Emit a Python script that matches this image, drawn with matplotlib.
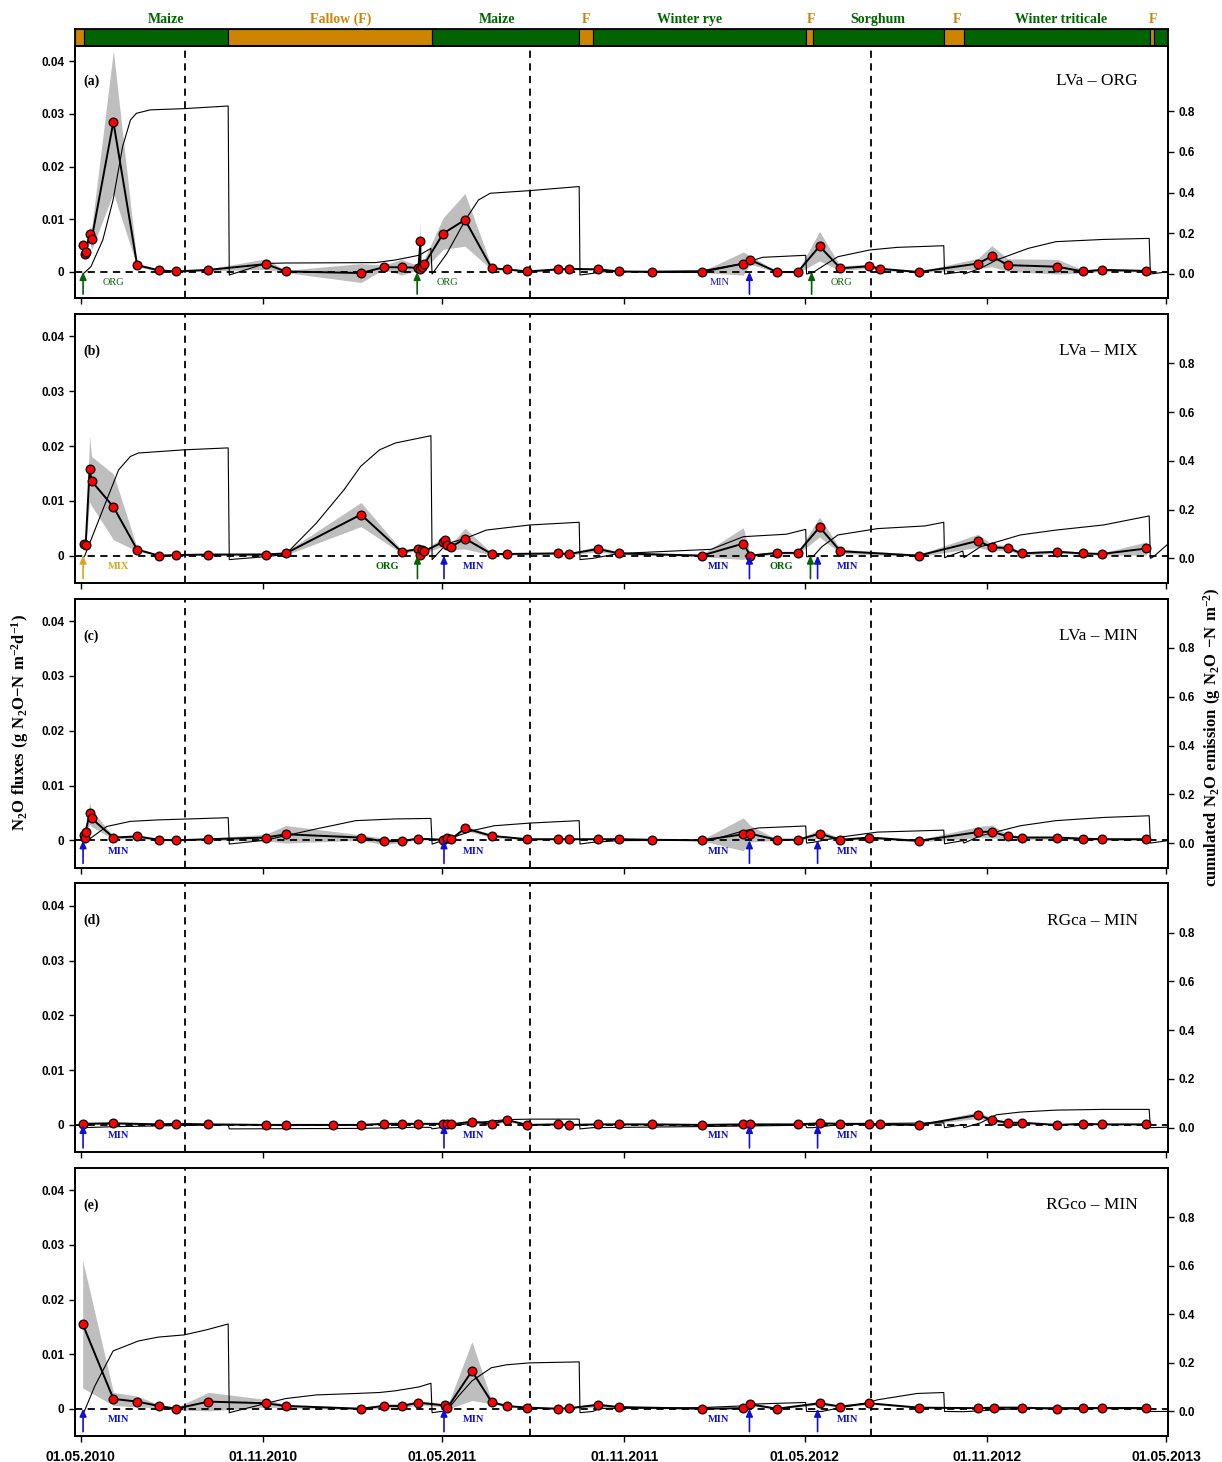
import numpy as np
import matplotlib
matplotlib.use("Agg")
import matplotlib.pyplot as plt

plt.rcParams["mathtext.fontset"] = "custom"
plt.rcParams["mathtext.rm"] = "Liberation Serif"
plt.rcParams["mathtext.bf"] = "Liberation Serif:bold"

SANS = ["Liberation Sans", "DejaVu Sans"]
SERIF = ["Liberation Serif", "DejaVu Serif"]

GREEN = "#006400"
ORANGE = "#CD8500"
GOLD = "#DAA520"
BLUE = "#1010D0"
BAND = "#BEBEBE"

# x values are days since 01.05.2010
# ---------------- crop periods ----------------
crop_start = [-5.75, 3.5, 149.2, 354.8, 503.3, 516.9, 732.0, 739.3, 871.4, 891.8, 1080.0, 1083.2]
crop_end = [3.5, 149.2, 354.8, 503.3, 516.9, 732.0, 739.3, 871.4, 891.8, 1080.0, 1083.2, 1097.8]
crop_fallow = [True, False, True, False, True, False, True, False, True, False, True, False]
crop_names = ["", "Maize", "Fallow (F)", "Maize", "F", "Winter rye", "F", "Sorghum", "F",
              "Winter triticale", "F", ""]
crop_label_day = [0, 86, 263, 420, 510, 615, 737, 805, 885, 990, 1083, 0]

season_lines = [105, 454, 798]

tick_dates = ["2010-05-01", "2010-11-01", "2011-05-01", "2011-11-01",
              "2012-05-01", "2012-11-01", "2013-05-01"]

# ---------------- (a) LVa - ORG ----------------
days_a = [2, 4, 5, 9, 11, 33, 57, 79, 96, 129, 187, 207, 283, 306, 324, 341, 343, 343, 345, 347,
          366, 388, 415, 430, 451, 482, 493, 522, 544, 577, 627, 669, 676, 703, 724, 746, 767,
          796, 807, 846, 906, 920, 936, 986, 1012, 1031, 1076]
flux_a = [0.0052, 0.0035, 0.0037, 0.0072, 0.0062, 0.0285, 0.0013, 0.0003, 0.0001, 0.0004,
          0.0015, 0.0001, -0.0002, 0.0009, 0.0009, 0.0008, 0.0059, 0.0005, 0.0010, 0.0015,
          0.0073, 0.0099, 0.0007, 0.0005, 0.0001, 0.0005, 0.0006, 0.0005, 0.0001, 0.0000,
          0.0000, 0.0016, 0.0023, 0.0000, 0.0000, 0.0049, 0.0007, 0.0011, 0.0006, 0.0000,
          0.0016, 0.0030, 0.0013, 0.0010, 0.0001, 0.0004, 0.0002]
se_a = [0.0012, 0.0010, 0.0010, 0.0014, 0.0020, 0.0135, 0.0003, 0.0002, 0.0001, 0.0002,
        0.0010, 0.0002, 0.0018, 0.0004, 0.0015, 0.0004, 0.0040, 0.0004, 0.0004, 0.0010,
        0.0030, 0.0050, 0.0003, 0.0002, 0.0001, 0.0002, 0.0002, 0.0002, 0.0001, 0.0001,
        0.0001, 0.0022, 0.0008, 0.0001, 0.0002, 0.0028, 0.0004, 0.0004, 0.0003, 0.0001,
        0.0010, 0.0020, 0.0012, 0.0014, 0.0003, 0.0003, 0.0002]
cum_days_a = [2.4, 10.3, 22.3, 32.7, 42.3, 50.2, 56.2, 70.2, 104.2, 148.9, 150.0, 186.8, 206.8,
              297.7, 317.7, 341.6, 353.6, 354.8, 369.6, 388.4, 401.6, 413.5, 453.5, 503.3,
              504.1, 516.9, 524.2, 627.1, 669.2, 688.4, 732.0, 732.9, 739.3, 748.4, 764.5,
              796.5, 824.5, 871.4, 872.2, 890.6, 891.8, 908.6, 924.7, 956.7, 984.7, 1032.8,
              1078.8, 1080.0, 1097.8]
cum_a = [0.0, 0.036, 0.167, 0.364, 0.626, 0.757, 0.790, 0.807, 0.813, 0.826, -0.005, 0.052,
         0.054, 0.056, 0.069, 0.092, 0.126, 0.0, 0.100, 0.266, 0.364, 0.397, 0.410, 0.430,
         -0.005, 0.003, 0.011, 0.016, 0.052, 0.082, 0.092, 0.0, 0.007, 0.036, 0.085, 0.118,
         0.131, 0.139, 0.0, 0.011, 0.0, 0.028, 0.069, 0.126, 0.159, 0.170, 0.175, 0.0, 0.011]

# ---------------- (b) LVa - MIX ----------------
days_b = [3, 5, 9, 11, 33, 57, 79, 96, 129, 187, 207, 283, 324, 341, 343, 345, 347, 366, 368,
          370, 374, 388, 415, 430, 482, 493, 522, 544, 627, 669, 676, 703, 724, 746, 767, 846,
          906, 920, 936, 950, 986, 1012, 1031, 1076]
flux_b = [0.0022, 0.0019, 0.0158, 0.0136, 0.0089, 0.0011, 0.0000, 0.0001, 0.0002, 0.0002,
          0.0004, 0.0075, 0.0007, 0.0012, 0.0001, 0.0011, 0.0008, 0.0025, 0.0028, 0.0019,
          0.0016, 0.0031, 0.0003, 0.0003, 0.0004, 0.0003, 0.0012, 0.0004, 0.0000, 0.0022,
          0.0000, 0.0005, 0.0005, 0.0052, 0.0008, 0.0000, 0.0027, 0.0015, 0.0014, 0.0004,
          0.0007, 0.0004, 0.0003, 0.0013]
se_b = [0.0003, 0.0003, 0.0060, 0.0045, 0.0060, 0.0003, 0.0001, 0.0001, 0.0001, 0.0003,
        0.0003, 0.0022, 0.0003, 0.0003, 0.0002, 0.0003, 0.0003, 0.0008, 0.0008, 0.0005,
        0.0005, 0.0019, 0.0002, 0.0002, 0.0002, 0.0002, 0.0005, 0.0002, 0.0002, 0.0029,
        0.0003, 0.0002, 0.0002, 0.0018, 0.0004, 0.0002, 0.0012, 0.0006, 0.0004, 0.0003,
        0.0003, 0.0002, 0.0002, 0.0012]
cum_days_b = [2.4, 4.4, 22.3, 38.3, 50.2, 58.2, 104.2, 148.9, 150.0, 186.8, 206.8, 237.8, 265.8,
              282.6, 301.7, 317.7, 353.6, 354.8, 369.6, 388.4, 409.5, 453.5, 503.3, 504.1,
              516.9, 543.2, 636.4, 669.2, 712.4, 732.0, 732.9, 739.3, 748.4, 764.5, 804.5,
              852.5, 871.4, 872.2, 890.6, 891.8, 908.6, 948.7, 984.7, 1032.8, 1078.8, 1080.0,
              1083.2, 1097.8]
cum_b = [0.0, 0.014, 0.199, 0.363, 0.418, 0.432, 0.445, 0.453, -0.005, 0.007, 0.016, 0.144,
         0.281, 0.377, 0.445, 0.473, 0.503, -0.005, 0.060, 0.082, 0.116, 0.137, 0.148, -0.005,
         0.0, 0.020, 0.037, 0.089, 0.099, 0.119, 0.007, 0.007, 0.048, 0.096, 0.122, 0.133,
         0.148, 0.003, 0.030, 0.003, 0.048, 0.096, 0.116, 0.137, 0.174, 0.0, 0.007, 0.059]

# ---------------- (c) LVa - MIN ----------------
days_c = [3, 4, 5, 9, 11, 33, 57, 79, 96, 129, 187, 207, 283, 306, 324, 341, 366, 370, 374,
          388, 415, 451, 482, 493, 522, 544, 577, 627, 669, 676, 703, 724, 746, 767, 796, 846,
          906, 920, 936, 950, 986, 1012, 1031, 1076]
flux_c = [0.0009, 0.0004, 0.0016, 0.0049, 0.0040, 0.0005, 0.0007, 0.0001, 0.0000, 0.0002,
          0.0005, 0.0011, 0.0005, -0.0002, -0.0001, 0.0003, 0.0001, 0.0004, 0.0002, 0.0022,
          0.0008, 0.0002, 0.0002, 0.0002, 0.0002, 0.0002, 0.0001, 0.0000, 0.0011, 0.0012,
          0.0001, 0.0001, 0.0012, 0.0001, 0.0005, -0.0001, 0.0015, 0.0016, 0.0007, 0.0005,
          0.0005, 0.0003, 0.0002, 0.0002]
se_c = [0.0003, 0.0003, 0.0005, 0.0020, 0.0015, 0.0003, 0.0003, 0.0001, 0.0001, 0.0002,
        0.0006, 0.0016, 0.0005, 0.0006, 0.0003, 0.0002, 0.0002, 0.0002, 0.0002, 0.0004,
        0.0003, 0.0001, 0.0001, 0.0001, 0.0001, 0.0001, 0.0001, 0.0001, 0.0030, 0.0015,
        0.0001, 0.0001, 0.0008, 0.0002, 0.0002, 0.0002, 0.0010, 0.0012, 0.0004, 0.0003,
        0.0003, 0.0002, 0.0002, 0.0002]
cum_days_c = [3.2, 26.3, 50.2, 78.2, 148.9, 150.0, 186.8, 237.8, 277.8, 317.7, 353.6, 354.8,
              369.6, 397.5, 417.5, 453.5, 503.3, 504.1, 516.9, 543.2, 636.4, 669.2, 684.4,
              732.0, 732.9, 739.3, 764.5, 804.5, 871.4, 872.2, 890.6, 891.8, 908.6, 948.7,
              984.7, 1032.8, 1078.8, 1080.0, 1097.8]
cum_c = [0.0, 0.068, 0.089, 0.095, 0.104, -0.004, 0.012, 0.058, 0.092, 0.099, 0.101, -0.004,
         0.015, 0.053, 0.071, 0.082, 0.092, -0.004, 0.003, 0.010, 0.012, 0.050, 0.062, 0.070,
         0.0, 0.003, 0.023, 0.045, 0.053, -0.003, 0.010, 0.0, 0.030, 0.071, 0.092, 0.105,
         0.112, 0.0, 0.010]

# ---------------- (d) RGca - MIN ----------------
days_d = [2, 33, 79, 96, 129, 187, 207, 255, 283, 306, 324, 341, 366, 370, 374, 395, 415, 430,
          451, 482, 493, 522, 544, 577, 627, 669, 676, 724, 746, 767, 796, 807, 846, 906, 920,
          936, 950, 986, 1012, 1031, 1076]
flux_d = [0.0002, 0.0003, 0.0001, 0.0002, 0.0001, 0.0000, 0.0000, 0.0000, 0.0000, 0.0002,
          0.0002, 0.0002, 0.0002, 0.0001, 0.0001, 0.0006, 0.0002, 0.0009, 0.0000, 0.0001,
          0.0000, 0.0001, 0.0001, 0.0001, 0.0000, 0.0001, 0.0001, 0.0001, 0.0003, 0.0002,
          0.0002, 0.0001, 0.0000, 0.0018, 0.0009, 0.0004, 0.0004, 0.0000, 0.0002, 0.0001,
          0.0001]
se_d = [0.0002, 0.0002, 0.0001, 0.0001, 0.0001, 0.0001, 0.0001, 0.0001, 0.0001, 0.0001,
        0.0001, 0.0001, 0.0001, 0.0001, 0.0001, 0.0003, 0.0002, 0.0003, 0.0001, 0.0001,
        0.0001, 0.0001, 0.0001, 0.0001, 0.0001, 0.0001, 0.0001, 0.0001, 0.0002, 0.0001,
        0.0001, 0.0001, 0.0001, 0.0006, 0.0004, 0.0002, 0.0002, 0.0001, 0.0001, 0.0001,
        0.0001]
cum_days_d = [2.4, 33.0, 148.9, 150.0, 282.6, 341.6, 353.6, 354.8, 397.5, 429.8, 453.5, 503.3,
              504.1, 516.9, 636.4, 732.0, 732.9, 739.3, 764.5, 804.5, 871.4, 872.2, 890.6,
              891.8, 908.6, 924.7, 948.7, 984.7, 1032.8, 1078.8, 1080.0, 1097.8]
cum_d = [0.0, 0.004, 0.012, -0.005, -0.003, 0.002, 0.001, -0.005, 0.020, 0.033, 0.035, 0.035,
         -0.005, 0.0, 0.005, 0.010, 0.0, 0.0, 0.012, 0.017, 0.020, 0.0, 0.012, 0.0, 0.020,
         0.053, 0.064, 0.072, 0.075, 0.075, 0.0, 0.002]

# ---------------- (e) RGco - MIN ----------------
days_e = [2, 33, 57, 79, 96, 129, 187, 207, 283, 306, 324, 341, 368, 370, 395, 415, 430, 451,
          482, 493, 522, 544, 627, 669, 676, 703, 746, 767, 796, 846, 906, 922, 950, 986, 1012,
          1031, 1076]
flux_e = [0.0155, 0.0018, 0.0013, 0.0005, 0.0000, 0.0013, 0.0010, 0.0005, 0.0000, 0.0005,
          0.0005, 0.0011, 0.0006, 0.0001, 0.0069, 0.0012, 0.0005, 0.0002, 0.0000, 0.0001,
          0.0007, 0.0003, 0.0000, 0.0001, 0.0008, 0.0000, 0.0010, 0.0004, 0.0010, 0.0002,
          0.0001, 0.0002, 0.0002, 0.0000, 0.0001, 0.0001, 0.0001]
se_e = [0.0117, 0.0012, 0.0010, 0.0003, 0.0002, 0.0017, 0.0007, 0.0003, 0.0002, 0.0004,
        0.0004, 0.0004, 0.0003, 0.0002, 0.0054, 0.0003, 0.0002, 0.0001, 0.0001, 0.0001,
        0.0004, 0.0002, 0.0001, 0.0001, 0.0003, 0.0001, 0.0003, 0.0002, 0.0002, 0.0001,
        0.0001, 0.0001, 0.0001, 0.0001, 0.0001, 0.0001, 0.0001]
cum_days_e = [3.6, 14.3, 32.7, 58.2, 78.2, 104.2, 126.1, 148.9, 150.0, 186.8, 206.8, 237.8,
              277.8, 301.7, 317.7, 341.6, 353.6, 354.8, 369.6, 381.6, 395.1, 414.7, 429.8,
              453.5, 503.3, 504.1, 516.9, 524.2, 627.1, 669.2, 676.0, 732.0, 732.9, 748.4,
              767.3, 796.1, 804.5, 844.5, 871.4, 872.2, 891.8, 908.6, 948.7, 984.7, 1078.8,
              1080.0, 1097.8]
cum_e = [0.0, 0.105, 0.249, 0.290, 0.306, 0.315, 0.335, 0.360, -0.005, 0.033, 0.053, 0.068,
         0.074, 0.078, 0.085, 0.101, 0.116, -0.005, 0.003, 0.064, 0.126, 0.180, 0.192, 0.200,
         0.204, -0.005, 0.0, 0.012, 0.016, 0.023, 0.030, 0.037, 0.0, 0.0, 0.016, 0.037, 0.048,
         0.074, 0.078, 0.0, -0.001, 0.003, 0.012, 0.015, 0.016, 0.0, 0.0]

# fertilisation arrows (day, colour) and labels (day, text, colour)
arrows_a = [(2.4, GREEN), (339.7, GREEN), (675.2, BLUE), (738.0, GREEN)]
notes_a = [(33.1, "ORG", GREEN), (370.0, "ORG", GREEN), (644.8, "MIN", BLUE), (768.1, "ORG", GREEN)]
arrows_b = [(2.4, GOLD), (340.0, GREEN), (366.8, BLUE), (675.2, BLUE), (736.8, GREEN), (744.0, BLUE)]
notes_b = [(38.3, "MIX", GOLD), (309.7, "ORG", GREEN), (396.7, "MIN", BLUE),
           (644.4, "MIN", BLUE), (707.2, "ORG", GREEN), (774.1, "MIN", BLUE)]
arrows_min = [(2.4, BLUE), (366.8, BLUE), (675.2, BLUE), (744.0, BLUE)]
notes_min = [(38.3, "MIN", BLUE), (396.7, "MIN", BLUE), (644.4, "MIN", BLUE), (774.1, "MIN", BLUE)]

sites = ["LVa \u2013 ORG", "LVa \u2013 MIX", "LVa \u2013 MIN", "RGca \u2013 MIN", "RGco \u2013 MIN"]
letters = ["(a)", "(b)", "(c)", "(d)", "(e)"]

panels = [
    (days_a, flux_a, se_a, cum_days_a, cum_a, arrows_a, notes_a, "normal"),
    (days_b, flux_b, se_b, cum_days_b, cum_b, arrows_b, notes_b, "bold"),
    (days_c, flux_c, se_c, cum_days_c, cum_c, arrows_min, notes_min, "bold"),
    (days_d, flux_d, se_d, cum_days_d, cum_d, arrows_min, notes_min, "bold"),
    (days_e, flux_e, se_e, cum_days_e, cum_e, arrows_min, notes_min, "bold"),
]

# ---------------- layout (pixel based) ----------------
W, H = 1222.0, 1462.0
LEFT, RIGHT = 75.0, 1168.0
panel_top = [46, 314, 598.7, 883.3, 1168]
panel_bot = [298, 583, 867.7, 1152.3, 1436]
ylims_left = [(-0.00494, 0.0429)] + [(-0.005, 0.0441)] * 4
ylims_right = [(-0.118, 1.121)] + [(-0.101, 1.002)] * 4
XLIM = (-5.75, 1097.8)


def rect(top, bottom):
    return [LEFT / W, 1 - bottom / H, (RIGHT - LEFT) / W, (bottom - top) / H]


base = np.datetime64("2010-05-01")
tick_days = [int((np.datetime64(d) - base).astype(int)) for d in tick_dates]
tick_labels = [d[8:10] + "." + d[5:7] + "." + d[0:4] for d in tick_dates]

fig = plt.figure(figsize=(12.22, 14.62), dpi=100)

# crop bar on top
axc = fig.add_axes(rect(29, 46))
widths = [e - s for s, e in zip(crop_start, crop_end)]
colors = [ORANGE if f else GREEN for f in crop_fallow]
axc.bar(crop_start, 1, width=widths, align="edge", color=colors, edgecolor="black", lw=0.8)
axc.set_xlim(*XLIM)
axc.set_ylim(0, 1)
axc.set_xticks([])
axc.set_yticks([])
for s in axc.spines.values():
    s.set_linewidth(1.3)
for name, day, f in zip(crop_names, crop_label_day, crop_fallow):
    if name:
        axc.text(day, 1.57, name, ha="center", va="center", fontsize=10, fontweight="bold",
                 family=SERIF, color=ORANGE if f else GREEN, clip_on=False)

for i, (days, flux, se, cdays, cum, arrows, notes, nweight) in enumerate(panels):
    ax = fig.add_axes(rect(panel_top[i], panel_bot[i]))
    ax2 = ax.twinx()
    ax.set_xlim(*XLIM)
    ax.set_ylim(*ylims_left[i])
    ax2.set_ylim(*ylims_right[i])

    days = np.array(days, dtype=float)
    flux = np.array(flux)
    se = np.array(se)

    ax.fill_between(days, flux - se, flux + se, color=BAND, lw=0, zorder=1)
    ax.plot(cdays, cum, color="black", lw=0.8, zorder=2, transform=ax2.transData)
    ax.axhline(0, color="black", lw=1.3, ls=(0, (4, 3)), zorder=2)
    for d in season_lines:
        ax.axvline(d, color="black", lw=1.3, ls=(0, (4, 3)), zorder=2)
    ax.plot(days, flux, color="black", lw=1.4, zorder=3)
    ax.plot(days, flux, ls="none", marker="o", ms=6.3, mfc="red", mec="black", mew=0.9, zorder=4)

    for d, c in arrows:
        ax.annotate("", xy=(d, 0.0), xytext=(d, -0.0042),
                    arrowprops=dict(arrowstyle="-|>,head_length=0.45,head_width=0.2",
                                    color=c, lw=1.2, shrinkA=0, shrinkB=0), zorder=5)
    for d, t, c in notes:
        ax.text(d, -0.002, t, ha="center", va="center", fontsize=7.5, fontweight=nweight,
                family=SERIF, color=c)

    ax.text(0.9725, 0.861, sites[i], transform=ax.transAxes, ha="right", va="center",
            fontsize=12.5, family=SERIF)
    ax.text(0.0073, 0.861, letters[i], transform=ax.transAxes, ha="left", va="center",
            fontsize=10, fontweight="bold", family=SERIF)

    ax.set_yticks([0, 0.01, 0.02, 0.03, 0.04], ["0", "0.01", "0.02", "0.03", "0.04"],
                  fontsize=8.5, fontweight="bold", family=SANS)
    ax2.set_yticks([0, 0.2, 0.4, 0.6, 0.8], ["0.0", "0.2", "0.4", "0.6", "0.8"],
                   fontsize=8.5, fontweight="bold", family=SANS)
    if i == len(panels) - 1:
        ax.set_xticks(tick_days, tick_labels, fontsize=10, fontweight="bold", family=SANS)
    else:
        ax.set_xticks(tick_days, [""] * len(tick_days))
    ax.tick_params(axis="y", direction="out", length=4.5, width=1, pad=3)
    ax.tick_params(axis="x", direction="out", length=4.5, width=1, pad=5.5)
    ax2.tick_params(axis="y", direction="out", length=4.5, width=1, pad=3)
    for s in list(ax.spines.values()) + list(ax2.spines.values()):
        s.set_linewidth(1.3)

fig.text(0.0164, 0.506, r"$\mathbf{N_2O\ fluxes\ (g\ N_2O{-}N\ m^{-2}d^{-1})}$",
         rotation=90, ha="center", va="center", fontsize=12)
fig.text(0.992, 0.496, r"$\mathbf{cumulated\ N_2O\ emission\ (g\ N_2O\ {-}N\ m^{-2})}$",
         rotation=90, ha="center", va="center", fontsize=12)

fig.savefig("out.png", dpi=100)
